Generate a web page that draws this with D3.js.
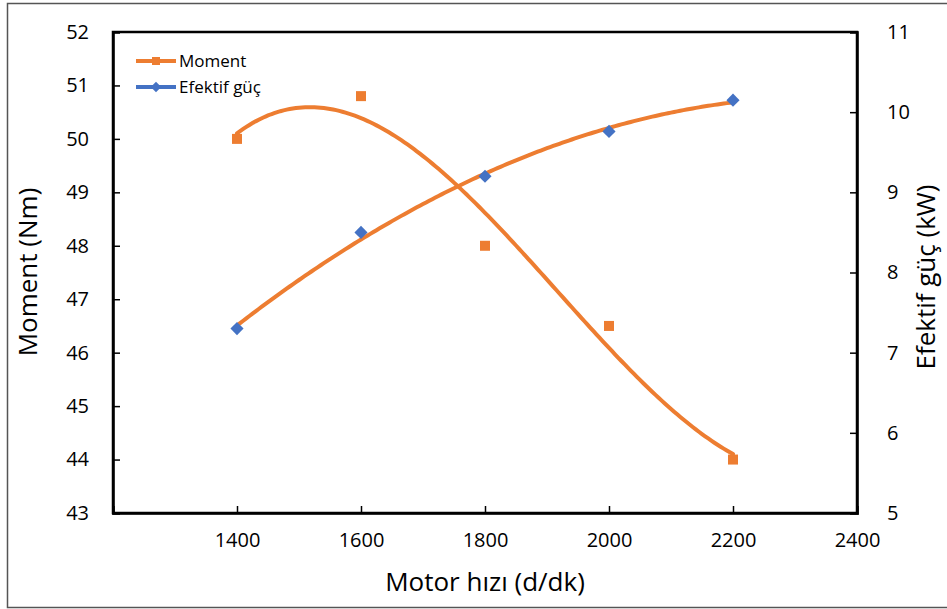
<!DOCTYPE html>
<html>
<head>
<meta charset="utf-8">
<script src="https://cdn.jsdelivr.net/npm/d3@7"></script>
<style>
  body { margin: 0; background: #fff; }
  text { font-family: "Open Sans", "Liberation Sans", sans-serif; fill: #000; }
</style>
</head>
<body>
<svg id="chart" width="947" height="609"></svg>
<script>
const speeds = [1400, 1600, 1800, 2000, 2200];
const moment = [50.0, 50.8, 48.0, 46.5, 44.0];
const power = [7.3, 8.5, 9.2, 9.76, 10.15];
const xTicks = [1400, 1600, 1800, 2000, 2200, 2400];
const leftTicks = [43, 44, 45, 46, 47, 48, 49, 50, 51, 52];
const rightTicks = [5, 6, 7, 8, 9, 10, 11];

const svg = d3.select("#chart"),
    margin = {top: 32, right: 90, bottom: 96, left: 113},
    width = 857 - margin.left,
    height = 513 - margin.top;

const orange = "#ED7D31", blue = "#4472C4";

// outer frame
svg.append("rect")
    .attr("x", 7.5).attr("y", 3.5)
    .attr("width", 960).attr("height", 604)
    .attr("fill", "none").attr("stroke", "#555").attr("stroke-width", 1.5);

const x = d3.scaleLinear().domain([1200, 2400]).range([0, width]);
const yL = d3.scaleLinear().domain([43, 52]).range([height, 0]);
const yR = d3.scaleLinear().domain([5, 11]).range([height, 0]);

const g = svg.append("g").attr("transform", `translate(${margin.left},${margin.top})`);

// least squares polynomial trendline, like the spreadsheet trendline
function polyFit(xs, ys, order) {
    const n = order + 1;
    const t = xs.map(v => (v - 1800) / 400);
    const A = [];
    for (let i = 0; i < n; i++) {
        A.push([]);
        for (let j = 0; j < n; j++) A[i].push(d3.sum(t, v => Math.pow(v, i + j)));
        A[i].push(d3.sum(t, (v, k) => ys[k] * Math.pow(v, i)));
    }
    for (let i = 0; i < n; i++) {
        let p = i;
        for (let r = i + 1; r < n; r++) if (Math.abs(A[r][i]) > Math.abs(A[p][i])) p = r;
        [A[i], A[p]] = [A[p], A[i]];
        for (let r = 0; r < n; r++) {
            if (r === i) continue;
            const f = A[r][i] / A[i][i];
            for (let c = i; c <= n; c++) A[r][c] -= f * A[i][c];
        }
    }
    const coef = A.map((row, i) => row[n] / row[i]);
    return v => {
        const tt = (v - 1800) / 400;
        return d3.sum(coef, (c, i) => c * Math.pow(tt, i));
    };
}

const fitM = polyFit(speeds, moment, 3);
const fitP = polyFit(speeds, power, 2);
const xs = d3.range(1400, 2201, 5);

const line = (fn, yScale) => d3.line()
    .x(d => x(d))
    .y(d => yScale(fn(d)))(xs);

// plot box
g.append("rect")
    .attr("width", width).attr("height", height)
    .attr("fill", "none").attr("stroke", "#000").attr("stroke-width", 2.5);

// axes
const xAxis = g.append("g").attr("transform", `translate(0,${height})`)
    .call(d3.axisBottom(x).tickValues(xTicks).tickSize(-7).tickPadding(20).tickFormat(d3.format("d")));
const leftAxis = g.append("g")
    .call(d3.axisLeft(yL).tickValues(leftTicks).tickSize(-7).tickPadding(24).tickFormat(d3.format("d")));
const rightAxis = g.append("g").attr("transform", `translate(${width},0)`)
    .call(d3.axisRight(yR).tickValues(rightTicks).tickSize(-7).tickPadding(30).tickFormat(d3.format("d")));

[xAxis, leftAxis, rightAxis].forEach(a => {
    a.select(".domain").attr("stroke", "#000").attr("stroke-width", 2.5);
    a.selectAll(".tick line").attr("stroke", "#000").attr("stroke-width", 1.5);
    a.selectAll(".tick text").attr("font-size", 20).attr("font-family", "Open Sans, sans-serif");
});
xAxis.selectAll(".tick").filter(d => d === 2400).select("line").remove();
leftAxis.selectAll(".tick").filter(d => d === 43 || d === 52).select("line").remove();
rightAxis.selectAll(".tick").filter(d => d === 5 || d === 11).select("line").remove();
leftAxis.selectAll(".tick text").attr("text-anchor", "end");
rightAxis.selectAll(".tick text").attr("text-anchor", "start");

// trendlines
g.append("path").attr("d", line(fitM, yL))
    .attr("fill", "none").attr("stroke", orange).attr("stroke-width", 4).attr("stroke-linecap", "round");
g.append("path").attr("d", line(fitP, yR))
    .attr("fill", "none").attr("stroke", orange).attr("stroke-width", 4).attr("stroke-linecap", "round");

// markers
g.selectAll(".sq").data(speeds).enter().append("rect")
    .attr("class", "sq")
    .attr("x", d => x(d) - 5).attr("y", (d, i) => yL(moment[i]) - 5)
    .attr("width", 10).attr("height", 10).attr("fill", orange);

const diamond = d3.symbol().type(d3.symbolDiamond2).size(110);
g.selectAll(".dm").data(speeds).enter().append("path")
    .attr("class", "dm")
    .attr("d", diamond)
    .attr("transform", (d, i) => `translate(${x(d)},${yR(power[i])})`)
    .attr("fill", blue);

// legend
const legend = svg.append("g").attr("transform", "translate(136,61)");
const items = [
    {name: "Moment", color: orange, shape: "sq"},
    {name: "Efektif güç", color: blue, shape: "dm"}
];
items.forEach((it, i) => {
    const row = legend.append("g").attr("transform", `translate(0,${i * 26})`);
    row.append("line").attr("x1", 0).attr("x2", 40).attr("y1", 0).attr("y2", 0)
        .attr("stroke", it.color).attr("stroke-width", 4);
    if (it.shape === "sq") {
        row.append("rect").attr("x", 16).attr("y", -4).attr("width", 8).attr("height", 8).attr("fill", it.color);
    } else {
        row.append("path").attr("d", d3.symbol().type(d3.symbolDiamond2).size(70))
            .attr("transform", "translate(20,0)").attr("fill", it.color);
    }
    row.append("text").attr("x", 43).attr("y", 0).attr("dy", "0.35em")
        .attr("font-family", "Liberation Sans Narrow, Liberation Sans, sans-serif")
        .attr("font-size", 17).text(it.name);
});

// axis titles
svg.append("text").attr("x", 485).attr("y", 591).attr("text-anchor", "middle")
    .attr("font-size", 26).text("Motor hızı (d/dk)");
svg.append("text").attr("transform", "translate(37,272) rotate(-90)").attr("text-anchor", "middle")
    .attr("font-size", 26).text("Moment (Nm)");
svg.append("text").attr("transform", "translate(935,277) rotate(-90)").attr("text-anchor", "middle")
    .attr("font-size", 26).text("Efektif güç (kW)");
</script>
</body>
</html>
